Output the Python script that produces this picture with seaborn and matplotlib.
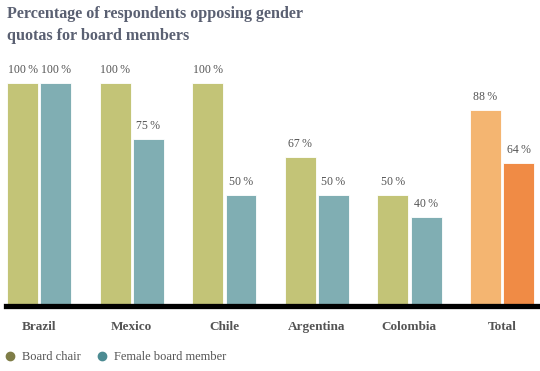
import matplotlib.pyplot as plt
import seaborn as sns
import pandas as pd
from matplotlib.lines import Line2D

# dados
paises = ['Brazil', 'Mexico', 'Chile', 'Argentina', 'Colombia', 'Total']
board_chair = [100, 100, 100, 67, 50, 88]
female_member = [100, 75, 50, 50, 40, 64]
series = ['Board chair', 'Female board member']

df = pd.DataFrame({
    'pais': paises * 2,
    'valor': board_chair + female_member,
    'serie': [series[0]] * len(paises) + [series[1]] * len(paises),
})

cor_chair = '#C3C477'
cor_female = '#80AEB3'
cor_total_chair = '#F4B571'
cor_total_female = '#F08B45'
cor_texto = '#545454'
cor_titulo = '#5A6072'

sns.set_theme(style="white")
plt.rcParams['font.family'] = ['Liberation Serif', 'DejaVu Serif']

fig = plt.figure(figsize=(5.4, 3.71), dpi=100)
ax = fig.add_axes([6 / 540, (371 - 306) / 371, 532 / 540, (306 - 83) / 371])

sns.barplot(data=df, x='pais', y='valor', hue='serie', order=paises,
            palette=[cor_chair, cor_female], saturation=1, width=0.72, gap=0.07,
            edgecolor='white', linewidth=0.6, legend=False, ax=ax)

# barras do total em laranja
ax.containers[0][5].set_facecolor(cor_total_chair)
ax.containers[1][5].set_facecolor(cor_total_female)

for cont in ax.containers:
    ax.bar_label(cont, fmt='%.0f\u2009%%', padding=5, fontsize=8.5, color=cor_texto)

ax.set_ylim(0, 100)
ax.set_xlim(-0.36, 5.39)
ax.set_xlabel('')
ax.set_ylabel('')
ax.set_yticks([])
ax.tick_params(axis='x', length=0, pad=11)
for lbl in ax.get_xticklabels():
    lbl.set_fontweight('bold')
    lbl.set_fontsize(9.5)
    lbl.set_color(cor_texto)
for lado in ['top', 'right', 'left']:
    ax.spines[lado].set_visible(False)
ax.spines['bottom'].set_color('black')
ax.spines['bottom'].set_linewidth(3.8)

fig.text(7 / 540, 1 - 25 / 371, 'Percentage of respondents opposing gender\nquotas for board members',
         fontsize=11.6, fontweight='bold', color=cor_titulo, va='center', ha='left', linespacing=1.5)

handles = [Line2D([], [], marker='o', linestyle='', color='#7F7D47', markersize=6),
           Line2D([], [], marker='o', linestyle='', color='#4C8B92', markersize=6)]
fig.legend(handles, series, loc='center left', bbox_to_anchor=(-0.013, 1 - 357 / 371), ncol=2,
           frameon=False, handlelength=0.9, handletextpad=0.5, columnspacing=1.3,
           fontsize=9, labelcolor=cor_texto)

plt.savefig('out.png', dpi=100)
